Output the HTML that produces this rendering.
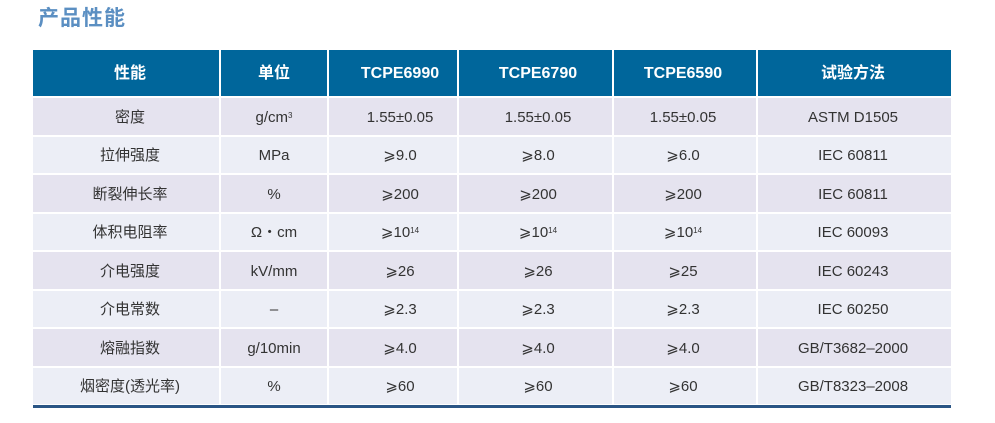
<!DOCTYPE html>
<html><head><meta charset="utf-8"><style>
body{margin:0;width:995px;height:423px;background:#fff;position:relative;overflow:hidden;font-family:"Liberation Sans","Noto Sans CJK SC",sans-serif}
.t{position:absolute;left:38px;top:6px;font-size:21px;line-height:26px;font-weight:bold;color:#5b8fc2;letter-spacing:1px}
.r{position:absolute;left:33px;width:918px}
.c{position:absolute;top:0;height:100%;line-height:20px;display:flex;align-items:center;justify-content:center;font-size:15px;color:#333;white-space:nowrap}
.c span{display:inline-block;line-height:20px;height:20px}
.h .c{color:#fff;font-size:16px;font-weight:bold}
.v{position:absolute;top:0;width:2px;height:100%;background:#fff}
sup{font-size:8px;line-height:8px;position:relative;top:4px;vertical-align:top}
</style></head><body>
<div class="t">产品性能</div>
<div id="tb"></div>
<div style="position:absolute;left:33px;top:405px;width:918px;height:3px;background:#2a5585"></div>
<script>
var rows=[["性能","单位","TCPE6990","TCPE6790","TCPE6590","试验方法"],
["密度","g/cm<sup>3</sup>","1.55±0.05","1.55±0.05","1.55±0.05","ASTM D1505"],
["拉伸强度","MPa","⩾9.0","⩾8.0","⩾6.0","IEC 60811"],
["断裂伸长率","%","⩾200","⩾200","⩾200","IEC 60811"],
["体积电阻率","Ω・cm","⩾10<sup>14</sup>","⩾10<sup>14</sup>","⩾10<sup>14</sup>","IEC 60093"],
["介电强度","kV/mm","⩾26","⩾26","⩾25","IEC 60243"],
["介电常数","–","⩾2.3","⩾2.3","⩾2.3","IEC 60250"],
["熔融指数","g/10min","⩾4.0","⩾4.0","⩾4.0","GB/T3682–2000"],
["烟密度(透光率)","%","⩾60","⩾60","⩾60","GB/T8323–2008"]];
var ys=[50,98,137,175,214,252,291,329,368,406];
var cx=[97,241,367,505,650,820];
var bx=[186,294,424,579,723];
var h="";
rows.forEach(function(r,i){
 var bg=i==0?"#00669b":(i%2?"#e5e3ef":"#eceef6");
 h+='<div class="r'+(i==0?' h':'')+'" style="top:'+ys[i]+'px;height:'+(ys[i+1]-ys[i])+'px;background:'+bg+'">';
 r.forEach(function(t,j){h+='<div class="c" style="left:'+(cx[j]-100)+'px;width:200px"><span>'+t+'</span></div>';});
 bx.forEach(function(x){h+='<div class="v" style="left:'+x+'px"></div>';});
 h+='<div style="position:absolute;left:0;bottom:0;width:100%;height:2px;background:#fff"></div></div>';
});
document.getElementById("tb").innerHTML=h;
</script>
</body></html>
